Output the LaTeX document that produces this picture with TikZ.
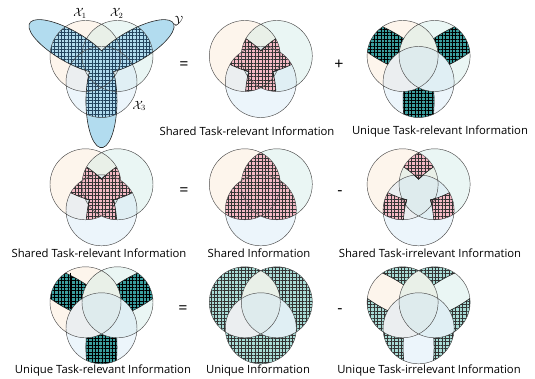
\documentclass[tikz,border=0pt]{standalone}
\usepackage[no-math]{fontspec}
\setmainfont{Open Sans}
\definecolor{aFill}{HTML}{FBE6D0}
\definecolor{bFill}{HTML}{CBE9E3}
\definecolor{cFill}{HTML}{D0E5F6}
\definecolor{rimGray}{HTML}{4A4A4A}
\definecolor{pinkFill}{HTML}{F4B9C5}
\definecolor{tealDark}{HTML}{3A9E9E}
\definecolor{tealLight}{HTML}{A9DCD6}
\definecolor{yBlue}{HTML}{A5D6EC}
\definecolor{yLine}{HTML}{23445E}
\usepackage{tikz}
\usetikzlibrary{patterns.meta}

% three views and the task, relative to the centre of a diagram
\newcommand{\cA}{(-16,8.7) circle[radius=35.5]}
\newcommand{\cB}{(16,8.7) circle[radius=35.5]}
\newcommand{\cC}{(0,-17.3) circle[radius=35.5]}
\newcommand{\bigbox}{(-120,120) -- (120,120) -- (120,-120) -- (-120,-120) -- cycle}
\newcommand{\Ylobe}[1]{{[rotate=#1] -- (6.95,-12.04) arc[start angle=-129.2, end angle=129.2, x radius=46.6, y radius=15.5]}}
\newcommand{\Yshape}{(-30:13.9) \Ylobe{30} \Ylobe{150} \Ylobe{270} -- cycle}
\newcommand{\venn}{%
  \fill[fill=aFill, fill opacity=.4] \cA;
  \fill[fill=bFill, fill opacity=.4] \cB;
  \fill[fill=cFill, fill opacity=.4] \cC;}
\newcommand{\rims}{\draw[rim] \cA \cB \cC;}
\newcommand{\inShared}[1]{%
  \begin{scope}\clip \cA; \clip \cB; #1\end{scope}
  \begin{scope}\clip \cA; \clip \cC; #1\end{scope}
  \begin{scope}\clip \cB; \clip \cC; #1\end{scope}}
\newcommand{\inUnique}[1]{%
  \begin{scope}\clip \cA; \clip \bigbox \cB; \clip \bigbox \cC; #1\end{scope}
  \begin{scope}\clip \cB; \clip \bigbox \cA; \clip \bigbox \cC; #1\end{scope}
  \begin{scope}\clip \cC; \clip \bigbox \cA; \clip \bigbox \cB; #1\end{scope}}

\begin{document}
\begin{tikzpicture}[x=1pt, y=1pt,
    rim/.style={draw=rimGray, line width=0.45pt},
    edge/.style={draw=black!85, line width=0.6pt},
    pinkhatch/.style={fill=pinkFill, postaction={pattern={Hatch[distance=3.4pt, line width=0.35pt]}, pattern color=black!80}},
    tealhatch/.style={fill=tealDark, postaction={pattern={Hatch[distance=3.4pt, line width=0.4pt]}, pattern color=black}},
    lighthatch/.style={fill=tealLight, postaction={pattern={Hatch[distance=3.4pt, line width=0.35pt]}, pattern color=black!80}},
    yhatch/.style={pattern={Hatch[distance=3.4pt, line width=0.35pt]}, pattern color=yLine},
    caption/.style={font=\fontsize{11.3}{13}\selectfont, inner sep=0pt},
    sign/.style={font=\fontsize{16}{18}\selectfont, inner sep=0pt},
    lbl/.style={font=\fontsize{12}{14}\selectfont, inner sep=0pt}
]
\useasboundingbox (0,0) rectangle (535,-379);

% Row 1: task Y over the views
\begin{scope}[shift={(101.5,-64.7)}]
  \venn
  \fill[yBlue, fill opacity=.85] \Yshape;
  \begin{scope}\clip \Yshape; \fill[yhatch] \cA \cB \cC; \end{scope}
  \rims
  \draw[edge] \Yshape;
  \node[lbl] (x1) at (-21.5,51.4) {$\mathcal{X}_1$};
  \node[lbl] (x2) at (15.2,51.4) {$\mathcal{X}_2$};
  \node[lbl, anchor=west] (y) at (72.5,43.5) {$\mathcal{Y}$};
  \node[lbl] (x3) at (37.8,-41.3) {$\mathcal{X}_3$};
\end{scope}

% Shared task-relevant
\begin{scope}[shift={(260.8,-64.7)}]
  \venn
  \inShared{\clip \Yshape; \fill[pinkhatch] \bigbox;}
  \rims
  \inShared{\draw[edge] \Yshape;}
\end{scope}

% Unique task-relevant
\begin{scope}[shift={(418.6,-64.7)}]
  \venn
  \inUnique{\clip \Yshape; \fill[tealhatch] \bigbox;}
  \rims
  \inUnique{\draw[edge] \Yshape;}
\end{scope}

% Row 2: shared task-relevant
\begin{scope}[shift={(101.5,-193)}]
  \venn
  \inShared{\clip \Yshape; \fill[pinkhatch] \bigbox;}
  \rims
  \inShared{\draw[edge] \Yshape;}
\end{scope}

% Shared information
\begin{scope}[shift={(260.8,-193)}]
  \venn
  \inShared{\fill[pinkhatch] \bigbox;}
  \rims
\end{scope}

% Shared task-irrelevant
\begin{scope}[shift={(418.6,-193)}]
  \venn
  \inShared{\clip \bigbox \Yshape; \fill[pinkhatch] \bigbox;}
  \rims
  \inShared{\draw[edge] \Yshape;}
\end{scope}

% Row 3: unique task-relevant
\begin{scope}[shift={(101.5,-311)}]
  \venn
  \inUnique{\clip \Yshape; \fill[tealhatch] \bigbox;}
  \rims
  \inUnique{\draw[edge] \Yshape;}
  \draw[black, line width=0.6pt] (-31.7,38.4) -- (-31.7,2.4);
\end{scope}

% Unique information
\begin{scope}[shift={(260.8,-311)}]
  \venn
  \inUnique{\fill[lighthatch] \bigbox;}
  \rims
\end{scope}

% Unique task-irrelevant
\begin{scope}[shift={(418.6,-311)}]
  \venn
  \inUnique{\clip \bigbox \Yshape; \fill[lighthatch] \bigbox;}
  \rims
  \inUnique{\draw[edge] \Yshape;}
\end{scope}

% Signs
\node[sign] (eq1) at (184,-66) {=};
\node[sign] (plus1) at (339,-65) {+};
\node[sign] (eq2) at (184,-192) {=};
\node[sign] (minus2) at (340,-193) {-};
\node[sign] (eq3) at (183,-310) {=};
\node[sign] (minus3) at (340,-311) {-};

% Captions
\node[caption] (capSR1) at (247,-131.5) {Shared Task-relevant Information};
\node[caption] (capUR1) at (440,-131.5) {Unique Task-relevant Information};
\node[caption] (capSR2) at (99,-253) {Shared Task-relevant Information};
\node[caption] (capS) at (259,-253) {Shared Information};
\node[caption] (capSI) at (430,-253) {Shared Task-irrelevant Information};
\node[caption] (capUR3) at (103,-371) {Unique Task-relevant Information};
\node[caption] (capU) at (258,-371) {Unique Information};
\node[caption] (capUI) at (429,-371) {Unique Task-irrelevant Information};
\end{tikzpicture}
\end{document}
